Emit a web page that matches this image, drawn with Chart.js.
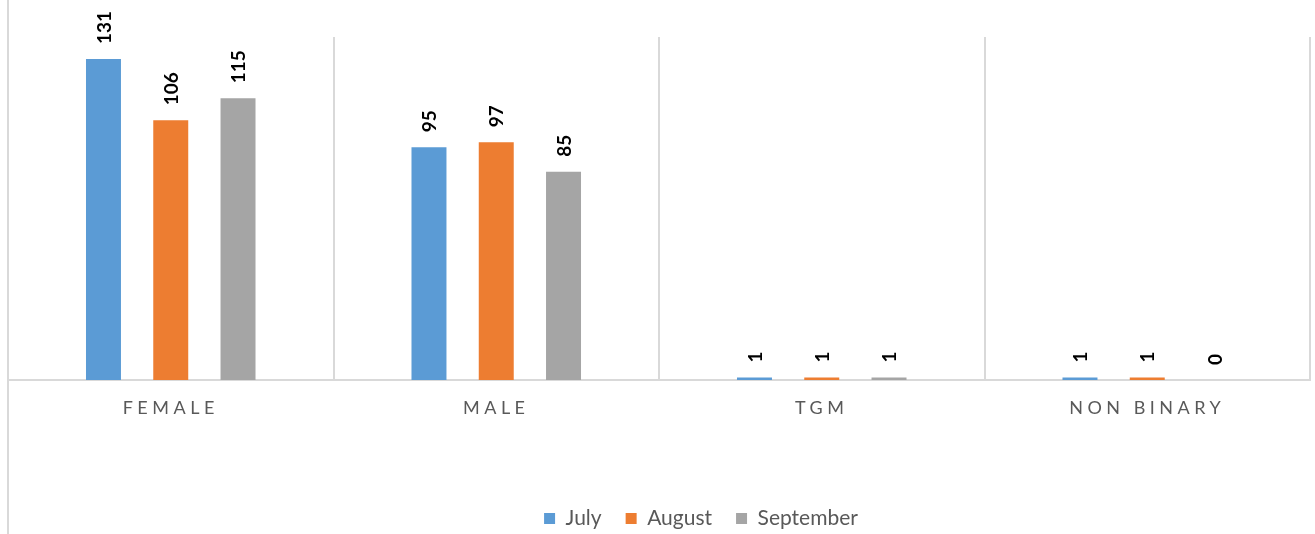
<!DOCTYPE html>
<html>
<head>
<meta charset="utf-8">
<script src="https://cdn.jsdelivr.net/npm/chart.js@4/dist/chart.umd.min.js"></script>
<style>
  html, body { margin: 0; padding: 0; background: #fff; }
  #wrap { position: relative; width: 1315px; height: 534px; }
  #edge { position: absolute; left: 7px; top: 0; width: 2px; height: 534px; background: #d9d9d9; }
</style>
</head>
<body>
<div id="wrap">
  <canvas id="genderChart"></canvas>
  <div id="edge"></div>
</div>
<script>
// Gender counts per month
const categories = ['FEMALE', 'MALE', 'TGM', 'NON BINARY'];
const months = ['July', 'August', 'September'];
const julyValues = [131, 95, 1, 1];
const augustValues = [106, 97, 1, 1];
const septemberValues = [115, 85, 1, 0];

const colors = ['#5B9BD5', '#ED7D31', '#A5A5A5'];
const fontName = 'Lato, "Liberation Sans", sans-serif';

// value labels written vertically above each bar
const barLabels = {
    id: 'barLabels',
    afterDatasetsDraw(chart) {
        const ctx = chart.ctx;
        ctx.save();
        ctx.fillStyle = '#000';
        ctx.font = 'bold 19px ' + fontName;
        ctx.textAlign = 'left';
        ctx.textBaseline = 'middle';
        chart.data.datasets.forEach((ds, i) => {
            chart.getDatasetMeta(i).data.forEach((bar, j) => {
                ctx.save();
                ctx.translate(bar.x + 1, bar.y - 15);
                ctx.rotate(-Math.PI / 2);
                ctx.fillText(String(ds.data[j]), 0, 0);
                ctx.restore();
            });
        });
        ctx.restore();
    }
};

// spaced out category labels, like the original axis
const spacedTicks = {
    id: 'spacedTicks',
    afterLayout(chart) {
        const x = chart.scales.x;
        if (!x._spaced) {
            const orig = x.drawLabels;
            x.drawLabels = function(area) {
                const ctx = this.ctx;
                ctx.save();
                ctx.letterSpacing = '4.5px';
                orig.call(this, area);
                ctx.restore();
            };
            x._spaced = true;
        }
        // the original legend sits a bit right of centre
        chart.legend.left += 42;
        chart.legend.right += 42;
    }
};

const ctx = document.getElementById('genderChart').getContext('2d');
const genderChart = new Chart(ctx, {
    type: 'bar',
    data: {
        labels: categories,
        datasets: [
            { label: months[0], data: julyValues, backgroundColor: colors[0] },
            { label: months[1], data: augustValues, backgroundColor: colors[1] },
            { label: months[2], data: septemberValues, backgroundColor: colors[2] }
        ]
    },
    options: {
        responsive: true,
        maintainAspectRatio: false,
        animation: false,
        categoryPercentage: 0.62,
        barPercentage: 0.52,
        layout: { padding: { left: 8, right: 5, top: 37, bottom: 0 } },
        plugins: {
            tooltip: { enabled: false },
            legend: {
                position: 'bottom',
                maxHeight: 50,
                labels: {
                    boxWidth: 11,
                    boxHeight: 11,
                    padding: 24,
                    color: '#595959',
                    font: { family: fontName, size: 21 }
                }
            }
        },
        scales: {
            x: {
                grid: { color: '#d9d9d9', lineWidth: 2, drawTicks: false },
                border: { color: '#d9d9d9', width: 2 },
                ticks: {
                    color: '#595959',
                    padding: 17,
                    maxRotation: 0,
                    font: { family: fontName, size: 18 }
                },
                afterFit(scale) { scale.height = 104; }
            },
            y: {
                display: false,
                min: 0,
                max: 140
            }
        }
    },
    plugins: [barLabels, spacedTicks]
});
</script>
</body>
</html>
